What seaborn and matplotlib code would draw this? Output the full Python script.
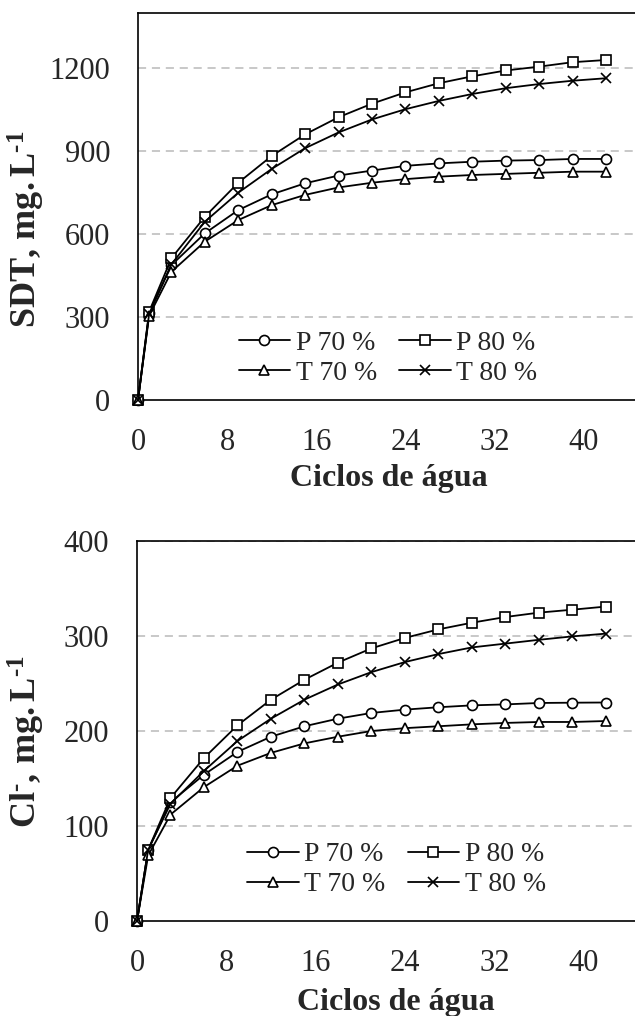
import matplotlib
matplotlib.use("Agg")
import matplotlib.pyplot as plt
import seaborn as sns
import numpy as np
import pandas as pd

# ---------------- data ----------------
ciclos = [0, 1, 3, 6, 9, 12, 15, 18, 21, 24, 27, 30, 33, 36, 39, 42]
series_labels = ["P 70 %", "P 80 %", "T 70 %", "T 80 %"]

sdt_p70 = [0, 315, 488, 603, 687, 744, 784, 812, 830, 847, 856, 862, 866, 868, 872, 872]
sdt_p80 = [0, 320, 513, 663, 786, 883, 961, 1023, 1072, 1113, 1146, 1171, 1192, 1206, 1222, 1230]
sdt_t70 = [0, 305, 464, 573, 651, 705, 742, 769, 786, 799, 808, 814, 818, 822, 826, 826]
sdt_t80 = [0, 312, 491, 645, 750, 836, 911, 968, 1015, 1052, 1082, 1107, 1128, 1143, 1155, 1164]

cl_p70 = [0, 75, 125, 154, 178, 194, 205, 213, 219, 222.5, 225, 227, 228, 229.5, 229.8, 230]
cl_p80 = [0, 75, 129.5, 171.6, 206, 233, 254, 272, 287, 298, 307, 314, 320, 324.6, 327.7, 331]
cl_t70 = [0, 69, 112, 141, 163.5, 177, 187, 194, 200, 203, 205, 207, 208.5, 209.5, 209.5, 210.5]
cl_t80 = [0, 75, 123.5, 158, 189.5, 213, 233, 249, 262, 272.6, 281, 288, 292, 296, 299.6, 302.5]

x_ticks = [0, 8, 16, 24, 32, 40]
sdt_ticks = [0, 300, 600, 900, 1200]
cl_ticks = [0, 100, 200, 300, 400]

# ---------------- style ----------------
sns.set_style("white")
plt.rcParams["font.family"] = ["Liberation Serif", "DejaVu Serif"]
plt.rcParams["mathtext.fontset"] = "custom"
plt.rcParams["mathtext.rm"] = "Liberation Serif"
plt.rcParams["mathtext.bf"] = "Liberation Serif:bold"
plt.rcParams["mathtext.it"] = "Liberation Serif:italic"

W, H = 635, 1016
fig = plt.figure(figsize=(W / 100, H / 100), dpi=100)

markers = {"P 70 %": ("o", 7.2), "P 80 %": ("s", 7.6), "T 70 %": ("^", 7.4), "T 80 %": ("x", 7.4)}

def panel(rect, data, yticks, ymax, ylabel, ylab_xy, xlab_xy, leg_xy):
    ax = fig.add_axes(rect)
    handles = {}
    for lab, vals in zip(series_labels, data):
        m, ms = markers[lab]
        df = pd.DataFrame({"x": ciclos, "y": vals})
        sns.lineplot(data=df, x="x", y="y", ax=ax, color="black", lw=1.3,
                     marker=m, markersize=ms, markerfacecolor="white",
                     markeredgecolor="black", markeredgewidth=1.2,
                     clip_on=False, zorder=5, label=lab)
        handles[lab] = ax.get_lines()[-1]
    ax.set_xlim(0, 44.6)
    ax.set_ylim(0, ymax)
    ax.set_xticks(x_ticks)
    ax.set_yticks(yticks)
    ax.tick_params(axis="both", direction="in", labelsize=22, color="black",
                   width=1.1)
    ax.tick_params(axis="x", length=7, pad=20)
    ax.tick_params(axis="y", length=5, pad=20)
    for yv in yticks[1:]:
        ax.axhline(yv, color="#c4c4c4", lw=1.3, ls=(0, (4.5, 3.2)), zorder=1)
    for s in ["left", "bottom", "top"]:
        ax.spines[s].set_visible(True)
        ax.spines[s].set_color("black")
        ax.spines[s].set_linewidth(1.2)
    ax.spines["right"].set_visible(False)
    ax.set_xlabel("Ciclos de água", fontsize=23, fontweight="bold")
    ax.xaxis.set_label_coords(*xlab_xy)
    ax.set_ylabel(ylabel, fontsize=26, va="center")
    ax.yaxis.set_label_coords(*ylab_xy)
    order = ["P 70 %", "T 70 %", "P 80 %", "T 80 %"]
    ax.legend([handles[k] for k in order], order, ncol=2, loc="center",
              bbox_to_anchor=leg_xy, frameon=False, fontsize=20,
              handlelength=1.85, handletextpad=0.2, columnspacing=0.8,
              labelspacing=0.16, borderpad=0, borderaxespad=0, numpoints=1)
    return ax

HY = "\u2010"  # hyphen (short dash as in the reference)

# top panel: axes x 138..635, y 13..400
ax1 = panel([138 / W, 1 - 400 / H, 1 - 138 / W, 387 / H],
            [sdt_p70, sdt_p80, sdt_t70, sdt_t80], sdt_ticks, 1400,
            r"$\mathbf{SDT,\,mg.L^{" + HY + r"1}}$",
            (-0.225, 0.44), (0.505, -0.165), (0.503, 0.108))

# bottom panel: axes x 137..635, y 541..921
ax2 = panel([137 / W, 1 - 921 / H, 1 - 137 / W, 380 / H],
            [cl_p70, cl_p80, cl_t70, cl_t80], cl_ticks, 400,
            r"$\mathbf{Cl^{" + HY + r"},\,mg.L^{" + HY + r"1}}$",
            (-0.222, 0.471), (0.52, -0.176), (0.521, 0.135))

fig.savefig("out.png", dpi=100)
